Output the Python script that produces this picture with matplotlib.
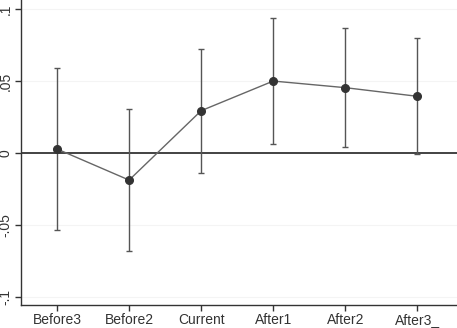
import matplotlib.pyplot as plt
import numpy as np

plt.rcParams['font.family'] = ['Liberation Sans', 'DejaVu Sans']

# event-study coefficients and 95% CI
periods = ["Before3", "Before2", "Current", "After1", "After2", "After3_"]
coef = [0.0028, -0.0188, 0.0294, 0.0500, 0.0454, 0.0394]
ci_low = [-0.0537, -0.0683, -0.0137, 0.0063, 0.0042, -0.0007]
ci_high = [0.0590, 0.0308, 0.0724, 0.0935, 0.0866, 0.0797]
yticks = [-0.1, -0.05, 0, 0.05, 0.1]
ytick_labels = ["-.1", "-.05", "0", ".05", ".1"]

x = np.arange(len(periods))
coef = np.array(coef)
err = [coef - np.array(ci_low), np.array(ci_high) - coef]

fig = plt.figure(figsize=(4.57, 3.28), dpi=100)
ax = fig.add_axes([0.046, 0.070, 0.954, 0.930])

# faint grid lines like stata
for v in [-0.1, -0.05, 0.05, 0.1]:
    ax.axhline(v, color="#f4f4f4", linewidth=0.8, zorder=0)
ax.axhline(0, color="#222222", linewidth=1.2, zorder=1)

ax.errorbar(x, coef, yerr=err, fmt="none", ecolor="#555555", elinewidth=1.0,
            capsize=2.3, capthick=1.0, zorder=2)
ax.plot(x, coef, color="#666666", linewidth=1.0, zorder=3)
ax.plot(x, coef, "o", color="#333333", markersize=5.5, zorder=4)

ax.set_xlim(-0.5, 5.55)
ax.set_ylim(-0.1056, 0.1063)
ax.set_xticks(x)
ax.set_xticklabels(periods, fontsize=10)
ax.set_yticks(yticks)
ax.set_yticklabels(ytick_labels, fontsize=10, rotation=90, va="center")

for s in ["top", "right"]:
    ax.spines[s].set_visible(False)
for s in ["left", "bottom"]:
    ax.spines[s].set_color("#333333")
    ax.spines[s].set_linewidth(1.0)
ax.tick_params(colors="#333333", length=4, width=1.0, pad=2)

fig.savefig("out.png", dpi=100)
